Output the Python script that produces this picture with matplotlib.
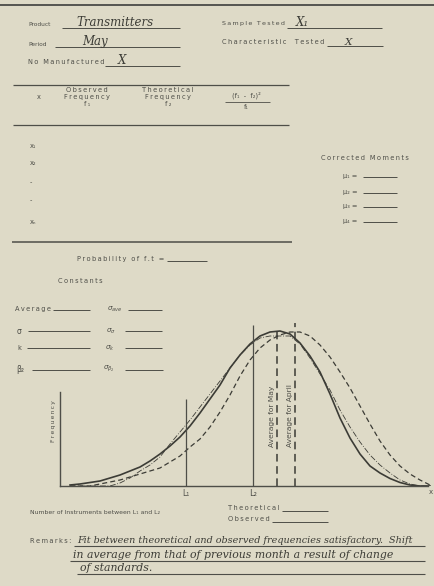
import numpy as np
import matplotlib
matplotlib.use("Agg")
import matplotlib.pyplot as plt

# --- chart data (read off the scanned form) ---
# instrument reading, one step per 10 px of the original sketch
readings = np.arange(1, 38)

may_observed = [0.1, 0.2, 0.35, 0.5, 0.8, 1.1, 1.5, 1.9, 2.5, 3.2, 4.0, 4.9,
                6.0, 7.3, 8.7, 10.1, 11.8, 13.1, 14.2, 15.0, 15.4, 15.5, 15.2,
                14.3, 13.0, 11.4, 9.2, 6.8, 4.8, 3.2, 2.0, 1.3, 0.75, 0.35,
                0.1, 0.0, 0.0]
may_theoretical = [0, 0, 0, 0, 0, 0.3, 0.8, 1.5, 2.1, 2.9, 4.2, 5.4, 6.6,
                   7.9, 9.2, 10.5, 11.8, 13.1, 14.1, 14.8, 15.0, 15.0, 15.0,
                   14.2, 12.8, 11.2, 9.6, 7.6, 5.9, 4.4, 3.1, 2.1, 1.3, 0.6,
                   0.2, 0, 0]
april_curve = [0, 0, 0, 0.2, 0.4, 0.6, 0.9, 1.2, 1.5, 1.8, 2.4, 3.0, 3.9,
               4.7, 5.9, 7.4, 9.1, 11.0, 12.6, 13.8, 14.6, 15.1, 15.4, 15.4,
               15.0, 14.1, 12.9, 11.4, 9.8, 8.0, 6.2, 4.5, 3.1, 2.0, 1.2,
               0.6, 0.1]

limit_L1 = 12.6
limit_L2 = 19.3
average_may = 21.7
average_april = 23.5

remarks = ["Fit between theoretical and observed frequencies satisfactory.  Shift",
           "in average from that of previous month a result of change",
           "of standards."]

BG = "#dedac7"
INK = "#4e4e48"
PEN = "#3c3c36"

fig = plt.figure(figsize=(4.35, 5.86), dpi=100, facecolor=BG)

# form in pixel coordinates
form = fig.add_axes([0, 0, 1, 1])
form.set_xlim(0, 435)
form.set_ylim(586, 0)
form.axis("off")
form.set_facecolor(BG)


def track(s):
    # wide letter spacing of the stencilled lettering
    return "\u2009".join(s)


def typed(x, y, s, size=4.8, ha="left", spaced=True, **kw):
    if spaced:
        s = track(s)
    form.text(x, y, s, fontsize=size, color=INK, ha=ha, va="center",
              family="DejaVu Sans", **kw)


def hand(x, y, s, size=8.0):
    form.text(x, y, s, fontsize=size, color=PEN, ha="left", va="baseline",
              family="DejaVu Serif", style="italic")


def blank(x0, x1, y, lw=0.7):
    form.hlines(y, x0, x1, color=INK, lw=lw)


form.hlines(5, 0, 435, color="#555550", lw=1.4)

typed(28, 24, "Product", size=4.2, spaced=False)
blank(62, 180, 28)
hand(76, 26, "Transmitters", 8.5)
typed(222, 24, "Sample Tested", size=4.6)
blank(287, 382, 28)
hand(296, 26, "X\u2081", 8.5)
typed(28, 45, "Period", size=4.2, spaced=False)
blank(55, 180, 47)
hand(82, 45, "May", 8.5)
typed(222, 42, "Characteristic  Tested")
blank(327, 383, 46)
hand(345, 45, "X", 7.5)
typed(28, 62, "No Manufactured")
blank(105, 180, 66)
hand(118, 64, "X", 8.5)

form.hlines([85, 125], 13, 289, color=INK, lw=0.9)
form.hlines(242, 12, 292, color=INK, lw=1.1)
typed(39, 97, "x", ha="center")
for cx, lines in [(87, ["Observed", "Frequency", "f\u2081"]),
                  (168, ["Theoretical", "Frequency", "f\u2082"])]:
    for i, s in enumerate(lines):
        typed(cx, 90 + 7 * i, s, ha="center")
typed(246, 95, "(f\u2081  -  f\u2082)\u00b2", ha="center", spaced=False)
form.hlines(102, 225, 270, color=INK, lw=0.6)
typed(246, 107, "f\u2081", ha="center", spaced=False)

for y, s in [(146, "x\u2081"), (163, "x\u2082"), (182, "-"), (200, "-"), (222, "x\u2099")]:
    typed(30, y, s, spaced=False)

typed(365, 158, "Corrected Moments", ha="center")
for i, y in enumerate([176, 192, 206, 221]):
    typed(343, y, "\u03bc" + "\u2081\u2082\u2083\u2084"[i] + " =", spaced=False)
    blank(363, 397, y + 1)

typed(77, 259, "Probability of f.t =")
blank(167, 207, 261)
typed(58, 281, "Constants")

typed(15, 309, "Average")
blank(53, 90, 310)
typed(107, 309, r"$\sigma_{ave}$", size=5.2, spaced=False)
blank(128, 162, 310)
typed(17, 331, "\u03c3", size=5.5, spaced=False)
blank(28, 90, 331)
typed(106, 331, r"$\sigma_{\sigma}$", size=5.2, spaced=False)
blank(125, 162, 331)
typed(17, 348, "k", spaced=False)
blank(27, 90, 348)
typed(105, 348, r"$\sigma_{k}$", size=5.2, spaced=False)
blank(125, 162, 348)
typed(16, 369, "\u03b2\u2082", size=5.5, spaced=False)
blank(32, 90, 370)
typed(103, 369, r"$\sigma_{\beta_2}$", size=5.2, spaced=False)
blank(125, 163, 370)

# the frequency chart
ax = fig.add_axes([60 / 435, 100 / 586, 375 / 435, 166 / 586])
ax.set_xlim(0, 37.5)
ax.set_ylim(0, 16.6)
ax.patch.set_alpha(0)
for side in ["top", "right"]:
    ax.spines[side].set_visible(False)
ax.spines["left"].set_bounds(0, 9.4)
ax.spines["bottom"].set_bounds(0, 36.8)
for side in ["left", "bottom"]:
    ax.spines[side].set_color(INK)
    ax.spines[side].set_linewidth(1.0)
ax.set_xticks([])
ax.set_yticks([])

ax.plot(readings, april_curve, color=PEN, lw=0.9, dashes=(4, 2.5))
ax.plot(readings, may_theoretical, color=PEN, lw=0.6, dashes=(7, 2, 1, 2))
ax.plot(readings, may_observed, color=PEN, lw=1.2)

ax.vlines(limit_L1, 0, 8.7, color=INK, lw=0.9)
ax.vlines(limit_L2, 0, 16.1, color=INK, lw=0.9)
ax.vlines(average_may, 0, 15.6, color=PEN, lw=1.1, linestyles=(0, (5, 3)))
ax.vlines(average_april, 0, 16.3, color=PEN, lw=1.1, linestyles=(0, (5, 3)))

ax.text(average_may - 0.5, 7.0, "Average for May", rotation=90, fontsize=5.4,
        color=INK, ha="center", va="center")
ax.text(average_april - 0.5, 7.0, "Average for April", rotation=90, fontsize=5.4,
        color=INK, ha="center", va="center")
ax.text(-0.6, 6.5, track("Frequency"), rotation=90, fontsize=4.3, color=INK,
        ha="center", va="center")
ax.text(limit_L1, -0.7, "L\u2081", fontsize=5.5, color=INK, ha="center", va="center")
ax.text(limit_L2, -0.7, "L\u2082", fontsize=6, color=INK, ha="center", va="center")
ax.text(37.1, -0.6, "x", fontsize=5, color=INK, ha="center", va="center")

typed(30, 512, "Number of Instruments between L\u2081 and L\u2082", size=4.4, spaced=False)
typed(228, 508, "Theoretical")
blank(282, 328, 511)
typed(228, 519, "Observed")
blank(272, 328, 522)

typed(30, 541, "Remarks:")
for (x0, yb, yl, fs), s in zip([(77, 543, 546, 6.9), (73, 558, 561, 7.8),
                                (80, 571, 574, 7.8)], remarks):
    hand(x0, yb, s, fs)
    blank(x0 - 3, 425, yl, lw=0.8)

fig.savefig("out.png", dpi=100, facecolor=BG)
